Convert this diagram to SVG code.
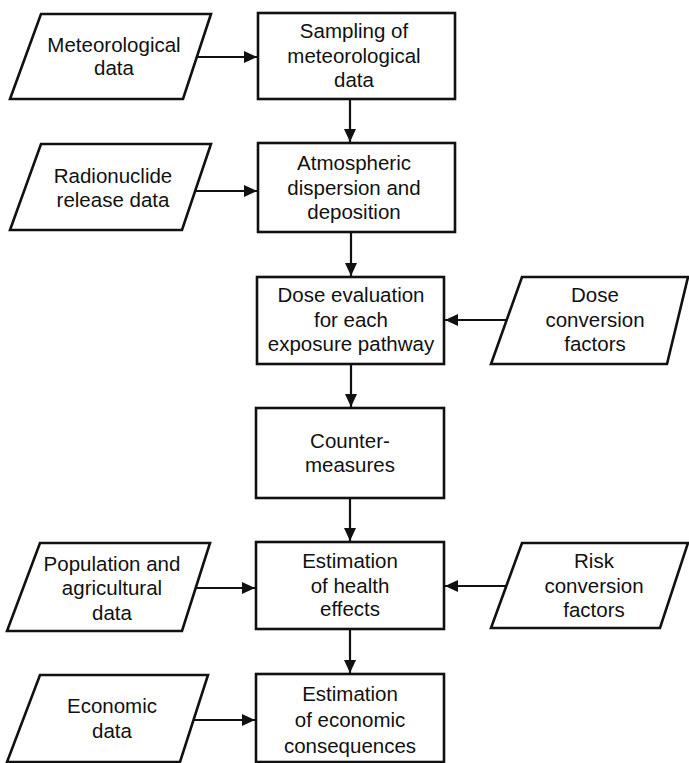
<svg xmlns="http://www.w3.org/2000/svg" width="689" height="763" viewBox="0 0 689 763">
  <defs>
    <style>
      .box { fill: #ffffff; stroke: #111111; stroke-width: 2.6; }
      .data { fill: #ffffff; stroke: #111111; stroke-width: 2.6; stroke-linejoin: miter; }
      .lbl { font-family: "Liberation Sans", Arial, Helvetica, sans-serif; font-size: 20.5px; fill: #111111; text-anchor: middle; }
      .conn { stroke: #111111; stroke-width: 2.2; fill: none; }
    </style>
    <marker id="arrow" markerUnits="userSpaceOnUse" markerWidth="14" markerHeight="12" refX="13" refY="6" orient="auto">
      <path d="M0,0 L13,6 L0,12 Z" fill="#111111"/>
    </marker>
  </defs>
  <rect width="689" height="763" fill="#ffffff"/>

  <g id="connectors">
    <line class="conn" x1="197" y1="57" x2="257" y2="57" marker-end="url(#arrow)"/>
    <line class="conn" x1="350" y1="99" x2="350" y2="142" marker-end="url(#arrow)"/>
    <line class="conn" x1="195" y1="191" x2="257" y2="191" marker-end="url(#arrow)"/>
    <line class="conn" x1="351" y1="232" x2="351" y2="276" marker-end="url(#arrow)"/>
    <line class="conn" x1="507" y1="320" x2="445" y2="320" marker-end="url(#arrow)"/>
    <line class="conn" x1="351" y1="364" x2="351" y2="407" marker-end="url(#arrow)"/>
    <line class="conn" x1="350" y1="498" x2="350" y2="541" marker-end="url(#arrow)"/>
    <line class="conn" x1="196" y1="588" x2="255" y2="588" marker-end="url(#arrow)"/>
    <line class="conn" x1="506" y1="586" x2="445" y2="586" marker-end="url(#arrow)"/>
    <line class="conn" x1="350" y1="629" x2="350" y2="673" marker-end="url(#arrow)"/>
    <line class="conn" x1="194" y1="720" x2="255" y2="720" marker-end="url(#arrow)"/>
  </g>

  <g id="meteorological-data">
    <polygon class="data" points="41,14 211,14 183,99 10,99"/>
    <text class="lbl" x="114" y="52">Meteorological</text>
    <text class="lbl" x="114" y="75">data</text>
  </g>

  <g id="sampling">
    <rect class="box" x="258" y="13" width="197" height="86"/>
    <text class="lbl" x="354" y="38">Sampling of</text>
    <text class="lbl" x="354" y="63">meteorological</text>
    <text class="lbl" x="354" y="87">data</text>
  </g>

  <g id="radionuclide-data">
    <polygon class="data" points="41,144 211,144 182,230 10,230"/>
    <text class="lbl" x="113" y="183">Radionuclide</text>
    <text class="lbl" x="113" y="207">release data</text>
  </g>

  <g id="atmospheric">
    <rect class="box" x="258" y="143" width="197" height="89"/>
    <text class="lbl" x="354" y="170">Atmospheric</text>
    <text class="lbl" x="354" y="195">dispersion and</text>
    <text class="lbl" x="354" y="219">deposition</text>
  </g>

  <g id="dose-evaluation">
    <rect class="box" x="257" y="277" width="187" height="87"/>
    <text class="lbl" x="351" y="302">Dose evaluation</text>
    <text class="lbl" x="351" y="327">for each</text>
    <text class="lbl" x="351" y="351">exposure pathway</text>
  </g>

  <g id="dose-conversion">
    <polygon class="data" points="522,277 688,277 667,364 491,364"/>
    <text class="lbl" x="595" y="302">Dose</text>
    <text class="lbl" x="595" y="327">conversion</text>
    <text class="lbl" x="595" y="351">factors</text>
  </g>

  <g id="countermeasures">
    <rect class="box" x="256" y="408" width="188" height="90"/>
    <text class="lbl" x="350" y="448">Counter-</text>
    <text class="lbl" x="350" y="472">measures</text>
  </g>

  <g id="population-data">
    <polygon class="data" points="40,543 210,543 182,631 7,631"/>
    <text class="lbl" x="112" y="571">Population and</text>
    <text class="lbl" x="112" y="595">agricultural</text>
    <text class="lbl" x="112" y="620">data</text>
  </g>

  <g id="health-effects">
    <rect class="box" x="256" y="542" width="188" height="87"/>
    <text class="lbl" x="350" y="568">Estimation</text>
    <text class="lbl" x="350" y="593">of health</text>
    <text class="lbl" x="350" y="616">effects</text>
  </g>

  <g id="risk-conversion">
    <polygon class="data" points="522,543 688,543 660,628 491,628"/>
    <text class="lbl" x="594" y="568">Risk</text>
    <text class="lbl" x="594" y="593">conversion</text>
    <text class="lbl" x="594" y="617">factors</text>
  </g>

  <g id="economic-data">
    <polygon class="data" points="40,675 208,675 180,762 7,762"/>
    <text class="lbl" x="112" y="713">Economic</text>
    <text class="lbl" x="112" y="738">data</text>
  </g>

  <g id="economic-consequences">
    <rect class="box" x="256" y="674" width="188" height="88"/>
    <text class="lbl" x="350" y="701">Estimation</text>
    <text class="lbl" x="350" y="727">of economic</text>
    <text class="lbl" x="350" y="753">consequences</text>
  </g>
</svg>
